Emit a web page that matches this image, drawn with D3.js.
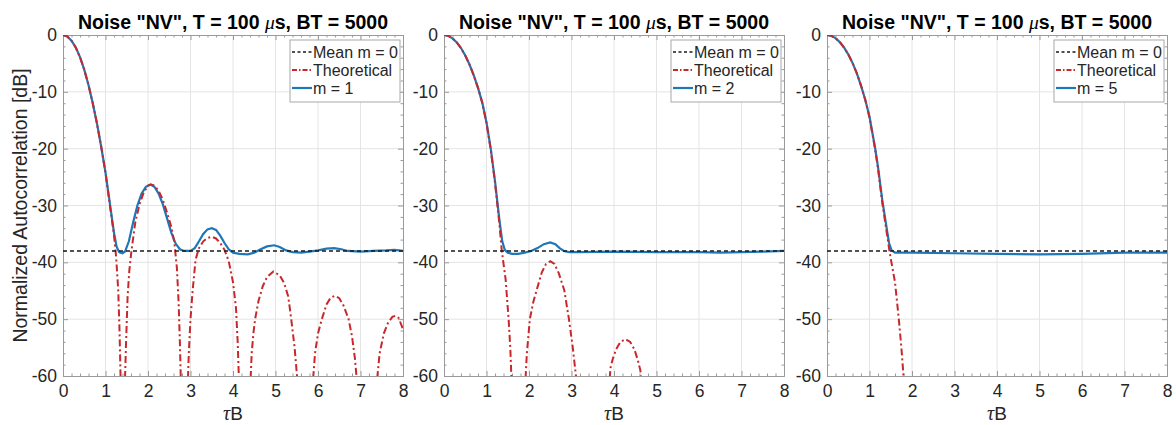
<!DOCTYPE html>
<html><head><meta charset="utf-8">
<script src="https://cdn.jsdelivr.net/npm/d3@7"></script>
<style>
html,body{margin:0;padding:0;background:#fff;}
svg{display:block;font-family:"Liberation Sans",Arial,Helvetica,sans-serif;}
</style></head>
<body><svg id="c" width="1176" height="425"></svg>
<script>
// ---------- data ----------
const xTicks = [0,1,2,3,4,5,6,7,8];
const yTicks = [0,-10,-20,-30,-40,-50,-60];
const titleParts = ['Noise "NV", T = 100 ', 'μ', 's, BT = 5000'];
const legendLabels = ["Mean m = 0", "Theoretical"];
const simLabels = ["m = 1", "m = 2", "m = 5"];
const meanLevel = -38;

// Theoretical curves [τB, dB]; null = break (goes below -60)
const theory1 = [[0,0],[0.1,-0.25],[0.2,-1.0],[0.3,-2.2],[0.4,-3.9],[0.5,-6.1],[0.6,-8.8],[0.7,-12.0],[0.8,-15.6],[0.9,-19.7],[1.0,-24.3],[1.1,-29.8],[1.2,-35.2],[1.25,-39],[1.3,-45],[1.33,-52],[1.36,-62],[1.4,null],
 [1.45,-63],[1.48,-55],[1.52,-46],[1.56,-41.5],[1.61,-38],[1.7,-33],[1.8,-29.8],[1.9,-27.7],[2.0,-26.5],[2.07,-26.3],[2.15,-26.5],[2.25,-27.4],[2.35,-29],[2.45,-31.3],[2.55,-33.8],[2.62,-36.5],[2.68,-41],[2.72,-47],[2.75,-54],[2.78,-63],[2.85,null],
 [2.93,-63],[2.96,-56],[3.0,-50],[3.05,-45],[3.12,-39.5],[3.2,-37.5],[3.3,-36.3],[3.4,-35.7],[3.5,-35.5],[3.6,-35.8],[3.7,-36.6],[3.8,-37.8],[3.9,-39.8],[4.0,-43.5],[4.07,-48],[4.11,-54],[4.15,-63],[4.27,null],
 [4.4,-63],[4.44,-56],[4.48,-52.5],[4.52,-50],[4.6,-46.8],[4.7,-44.2],[4.8,-42.6],[4.95,-41.6],[5.1,-42.3],[5.2,-43.6],[5.3,-46],[5.37,-50],[5.45,-55],[5.54,-63],[5.7,null],
 [5.86,-63],[5.93,-56],[6.0,-52.5],[6.09,-50],[6.2,-47.4],[6.3,-46.2],[6.4,-45.9],[6.5,-46.3],[6.6,-47.6],[6.72,-50],[6.8,-53],[6.87,-57],[6.94,-63],[7.15,null],
 [7.36,-63],[7.45,-56],[7.55,-52.5],[7.65,-50.6],[7.75,-49.6],[7.82,-49.4],[7.9,-49.8],[8.0,-51.8]];
const theory2 = [[0,0],[0.1,-0.15],[0.2,-0.6],[0.3,-1.3],[0.4,-2.3],[0.5,-3.6],[0.6,-5.2],[0.7,-7.1],[0.8,-9.3],[0.9,-11.9],[1.0,-15.5],[1.1,-20.2],[1.2,-26],[1.3,-33],[1.36,-38],[1.45,-43],[1.52,-50],[1.56,-55],[1.6,-63],[1.75,null],
 [1.9,-63],[1.95,-56],[2.02,-50],[2.1,-47],[2.18,-44.9],[2.3,-41.8],[2.4,-40.3],[2.5,-39.8],[2.6,-40.3],[2.7,-41.9],[2.83,-44.9],[2.94,-50],[3.03,-55],[3.15,-63],[3.5,null],
 [3.87,-63],[3.92,-58.5],[3.97,-57],[4.05,-55.3],[4.15,-54],[4.27,-53.5],[4.38,-54],[4.48,-55.3],[4.56,-57.2],[4.62,-59],[4.67,-63]];
const theory3 = [[0,0],[0.1,-0.15],[0.2,-0.55],[0.3,-1.25],[0.4,-2.2],[0.5,-3.4],[0.6,-4.9],[0.7,-6.7],[0.8,-8.9],[0.9,-11.4],[1.0,-14.5],[1.13,-20],[1.2,-23.5],[1.3,-29.5],[1.4,-34.5],[1.48,-38.5],[1.6,-43.5],[1.69,-50],[1.75,-55],[1.83,-63]];

// Simulated curves [τB, dB]
const sim1 = [[0,0],[0.1,-0.25],[0.2,-1.0],[0.3,-2.2],[0.4,-3.9],[0.5,-6.1],[0.6,-8.8],[0.7,-12.0],[0.8,-15.6],[0.9,-19.7],[1.0,-24.2],[1.1,-29.5],[1.2,-34.8],[1.26,-37.2],[1.32,-38.2],[1.4,-38.4],[1.46,-38.1],[1.55,-36.3],[1.65,-33],[1.75,-30],[1.85,-27.9],[1.95,-26.7],[2.06,-26.3],[2.15,-26.7],[2.25,-27.9],[2.35,-29.8],[2.45,-32.3],[2.55,-34.8],[2.65,-36.7],[2.75,-37.7],[2.85,-38.0],[3.0,-38.0],[3.1,-37.5],[3.2,-36.3],[3.3,-35.0],[3.4,-34.2],[3.5,-34.0],[3.6,-34.3],[3.7,-35.3],[3.8,-36.6],[3.9,-37.7],[4.0,-38.3],[4.15,-38.5],[4.35,-38.6],[4.5,-38.3],[4.65,-37.7],[4.8,-37.2],[4.97,-37.0],[5.1,-37.3],[5.25,-37.9],[5.4,-38.2],[5.6,-38.3],[5.8,-38.1],[6.0,-37.9],[6.2,-37.6],[6.38,-37.5],[6.55,-37.7],[6.7,-38.0],[7.0,-38.1],[7.3,-38.0],[7.6,-37.9],[7.8,-37.8],[8.0,-38.0]];
const sim2 = [[0,0],[0.1,-0.15],[0.2,-0.6],[0.3,-1.3],[0.4,-2.3],[0.5,-3.6],[0.6,-5.2],[0.7,-7.1],[0.8,-9.3],[0.9,-11.9],[1.0,-15.4],[1.1,-20.0],[1.2,-25.7],[1.3,-32.3],[1.37,-36.3],[1.43,-37.8],[1.5,-38.3],[1.6,-38.5],[1.75,-38.5],[1.9,-38.3],[2.05,-38.0],[2.2,-37.5],[2.35,-36.8],[2.5,-36.5],[2.62,-36.8],[2.72,-37.5],[2.82,-38.0],[2.95,-38.2],[3.2,-38.2],[4.0,-38.1],[5.0,-38.2],[6.0,-38.2],[6.5,-38.3],[7.0,-38.2],[7.5,-38.1],[8.0,-38.0]];
const sim3 = [[0,0],[0.1,-0.15],[0.2,-0.55],[0.3,-1.25],[0.4,-2.2],[0.5,-3.4],[0.6,-4.9],[0.7,-6.7],[0.8,-8.9],[0.9,-11.4],[1.0,-14.4],[1.13,-19.8],[1.2,-23.2],[1.3,-29.0],[1.4,-33.8],[1.46,-36.6],[1.52,-37.9],[1.6,-38.3],[2.0,-38.3],[3.0,-38.4],[4.0,-38.5],[5.0,-38.6],[6.0,-38.5],[7.0,-38.3],[8.0,-38.3]];

const panelLefts = [63, 444, 827];
const theories = [theory1, theory2, theory3];
const sims = [sim1, sim2, sim3];

// ---------- drawing ----------
const svg = d3.select("#c");
const W = 340, axTop = 35, axBottom = 376;
const blue = "#1f77b8", red = "#c8282b";
const FONT = '"Liberation Sans",Arial,Helvetica,sans-serif';
const SERIF = '"Liberation Serif","DejaVu Serif",serif';
const fmt = d => String(d);

panelLefts.forEach((left, i) => {
  const x = d3.scaleLinear().domain([0, 8]).range([left, left + W]);
  const y = d3.scaleLinear().domain([-60, 0]).range([axBottom, axTop]);
  const g = svg.append("g");
  const cid = "clip" + i;
  svg.append("clipPath").attr("id", cid).append("rect")
    .attr("x", left).attr("y", axTop).attr("width", W).attr("height", axBottom - axTop);

  // grid
  g.append("g").selectAll("line").data(xTicks.slice(1, -1)).join("line")
    .attr("x1", d => x(d)).attr("x2", d => x(d)).attr("y1", axTop).attr("y2", axBottom)
    .attr("stroke", "#e4e4e4").attr("stroke-width", 1);
  g.append("g").selectAll("line").data(yTicks.slice(1, -1)).join("line")
    .attr("y1", d => y(d)).attr("y2", d => y(d)).attr("x1", left).attr("x2", left + W)
    .attr("stroke", "#e4e4e4").attr("stroke-width", 1);

  // axes (ticks inward, on all sides)
  const minorX = d3.range(0, 8.001, 0.2).filter(v => Math.abs(v - Math.round(v)) > 1e-6);
  const minorY = d3.range(-60, 0.001, 2).filter(v => v % 10 !== 0);
  const axCol = "#9a9a9a";
  g.append("g").attr("transform", `translate(0,${axBottom})`)
    .call(d3.axisBottom(x).tickValues(xTicks).tickSize(-5).tickPadding(9).tickFormat(fmt));
  g.append("g").attr("transform", `translate(0,${axBottom})`)
    .call(d3.axisBottom(x).tickValues(minorX).tickSize(-2.5).tickFormat("")).call(s => s.select(".domain").remove());
  g.append("g").attr("transform", `translate(0,${axTop})`)
    .call(d3.axisTop(x).tickValues(xTicks).tickSize(-5).tickFormat(""));
  g.append("g").attr("transform", `translate(0,${axTop})`)
    .call(d3.axisTop(x).tickValues(minorX).tickSize(-2.5).tickFormat("")).call(s => s.select(".domain").remove());
  g.append("g").attr("transform", `translate(${left},0)`)
    .call(d3.axisLeft(y).tickValues(yTicks).tickSize(-5).tickPadding(6).tickFormat(fmt));
  g.append("g").attr("transform", `translate(${left},0)`)
    .call(d3.axisLeft(y).tickValues(minorY).tickSize(-2.5).tickFormat("")).call(s => s.select(".domain").remove());
  g.append("g").attr("transform", `translate(${left + W},0)`)
    .call(d3.axisRight(y).tickValues(yTicks).tickSize(-5).tickFormat(""));
  g.append("g").attr("transform", `translate(${left + W},0)`)
    .call(d3.axisRight(y).tickValues(minorY).tickSize(-2.5).tickFormat("")).call(s => s.select(".domain").remove());
  g.selectAll(".domain").attr("stroke", axCol);
  g.selectAll(".tick line").attr("stroke", axCol);
  g.selectAll(".tick text").attr("fill", "#262626").attr("font-size", 17.5).attr("font-family", FONT);

  // lines
  const line = d3.line().defined(d => d[1] !== null).x(d => x(d[0])).y(d => y(d[1]));
  const lines = g.append("g").attr("clip-path", `url(#${cid})`);
  lines.append("path").datum(sims[i]).attr("d", line)
    .attr("fill", "none").attr("stroke", blue).attr("stroke-width", 2.2);
  lines.append("path").datum(theories[i]).attr("d", line)
    .attr("fill", "none").attr("stroke", red).attr("stroke-width", 2)
    .attr("stroke-dasharray", "7,3,2,3");
  lines.append("path").datum([[0, meanLevel], [8, meanLevel]]).attr("d", line)
    .attr("fill", "none").attr("stroke", "#1a1a1a").attr("stroke-width", 1.6)
    .attr("stroke-dasharray", "4,3");

  // title
  const t = g.append("text").attr("x", left + W / 2).attr("y", 29)
    .attr("text-anchor", "middle").attr("font-size", 19.5).attr("font-weight", "bold")
    .attr("font-family", FONT).attr("fill", "#000");
  t.append("tspan").text(titleParts[0]);
  t.append("tspan").text(titleParts[1]).attr("font-style", "italic").attr("font-weight", "normal")
    .attr("font-family", SERIF);
  t.append("tspan").text(titleParts[2]);

  // x label
  const xl = g.append("text").attr("x", left + W / 2).attr("y", 420)
    .attr("text-anchor", "middle").attr("font-size", 19).attr("font-family", FONT).attr("fill", "#262626");
  xl.append("tspan").text("τ").attr("font-style", "italic").attr("font-family", SERIF).attr("font-size", 20);
  xl.append("tspan").text("B");

  // legend
  const lw = 110, lh = 62;
  const lx = left + W - 3 - lw, ly = axTop + 5;
  const lg = g.append("g");
  lg.append("rect").attr("x", lx).attr("y", ly).attr("width", lw).attr("height", lh)
    .attr("fill", "#fff").attr("stroke", "#a8a8a8").attr("stroke-width", 1);
  const entries = [
    {label: legendLabels[0], color: "#1a1a1a", dash: "3,2.5", w: 1.6},
    {label: legendLabels[1], color: red, dash: "5,2,1.5,2", w: 2},
    {label: simLabels[i], color: blue, dash: null, w: 2.2}
  ];
  entries.forEach((e, k) => {
    const yy = ly + 12 + k * 18;
    lg.append("line").attr("x1", lx + 2).attr("x2", lx + 22).attr("y1", yy).attr("y2", yy)
      .attr("stroke", e.color).attr("stroke-width", e.w).attr("stroke-dasharray", e.dash);
    lg.append("text").attr("x", lx + 23).attr("y", yy + 5.5).text(e.label)
      .attr("font-size", 16).attr("font-family", FONT).attr("fill", "#262626");
  });
});

// y label
svg.append("text").attr("transform", `translate(27,${(axTop + axBottom) / 2}) rotate(-90)`)
  .attr("text-anchor", "middle").attr("font-size", 19.5).attr("font-family", FONT).attr("fill", "#262626")
  .text("Normalized Autocorrelation [dB]");
</script></body></html>
